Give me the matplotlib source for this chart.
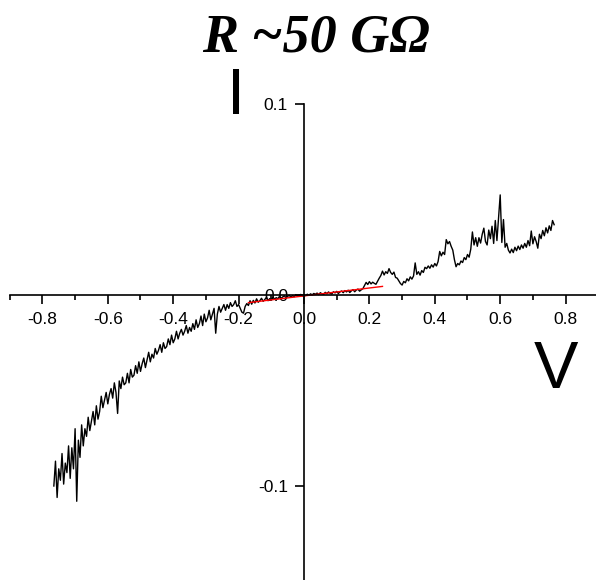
import numpy as np
import matplotlib
matplotlib.use("Agg")
import matplotlib.pyplot as plt
from matplotlib.ticker import MultipleLocator, FixedLocator

# Bias sweep (V): -0.765 V to +0.765 V in 5 mV steps
v_start, v_stop, v_step = -0.765, 0.765, 0.005
voltage = np.round(np.arange(v_start, v_stop + v_step / 2, v_step), 3)

# Measured current, one list per 0.1 V stretch of the sweep
cur_a = [-0.100, -0.087, -0.106, -0.091, -0.097, -0.083, -0.099, -0.088, -0.093, -0.079,
         -0.096, -0.080, -0.091, -0.070, -0.108, -0.076, -0.085, -0.068, -0.079, -0.070]
cur_b = [-0.074, -0.064, -0.071, -0.066, -0.061, -0.068, -0.058, -0.065, -0.061, -0.053,
         -0.059, -0.055, -0.051, -0.057, -0.052, -0.049, -0.054, -0.046, -0.051, -0.062]
cur_c = [-0.045, -0.049, -0.043, -0.047, -0.046, -0.041, -0.046, -0.039, -0.043, -0.042,
         -0.037, -0.041, -0.035, -0.040, -0.036, -0.033, -0.038, -0.034, -0.030, -0.035]
cur_d = [-0.031, -0.033, -0.028, -0.031, -0.029, -0.026, -0.030, -0.025, -0.028, -0.027,
         -0.023, -0.026, -0.021, -0.025, -0.023, -0.019, -0.023, -0.020, -0.018, -0.021]
cur_e = [-0.019, -0.016, -0.020, -0.017, -0.019, -0.015, -0.018, -0.013, -0.017, -0.015,
         -0.011, -0.016, -0.010, -0.014, -0.012, -0.008, -0.013, -0.010, -0.007, -0.020]
cur_f = [-0.010, -0.006, -0.009, -0.007, -0.005, -0.008, -0.005, -0.007, -0.004, -0.006,
         -0.005, -0.003, -0.006, -0.005, -0.007, -0.009, -0.0095, -0.006, -0.0045, -0.0055]
cur_g = [-0.0030, -0.0048, -0.0028, -0.0042, -0.0020, -0.0038, -0.0030, -0.0017, -0.0033, -0.0024,
         -0.0012, -0.0030, -0.0019, -0.0026, -0.0010, -0.0022, -0.0014, -0.0020, -0.0007, -0.0017]
cur_h = [-0.0010, -0.0004, -0.0015, -0.0007, -0.0002, -0.0012, -0.0003, -0.0009, 0.0002, -0.0006,
         -0.0001, 0.0003, -0.0006, 0.0001, -0.0003, 0.0004, -0.0001, 0.0006, 0.0001, 0.0008]
cur_i = [0.0004, 0.0010, 0.0002, 0.0012, 0.0006, 0.0003, 0.0014, 0.0007, 0.0016, 0.0009,
         0.0005, 0.0017, 0.0011, 0.0019, 0.0008, 0.0016, 0.0021, 0.0012, 0.0023, 0.0016]
cur_j = [0.0025, 0.0013, 0.0022, 0.0028, 0.0017, 0.0026, 0.0031, 0.0020, 0.0027, 0.0033,
         0.0050, 0.0066, 0.0055, 0.0070, 0.0058, 0.0067, 0.0061, 0.0056, 0.0072, 0.0088]
cur_k = [0.0102, 0.0125, 0.0105, 0.0122, 0.0113, 0.0138, 0.0118, 0.0108, 0.0120, 0.0092,
         0.0088, 0.0074, 0.0060, 0.0052, 0.0071, 0.0064, 0.0085, 0.0074, 0.0095, 0.0083]
cur_l = [0.0100, 0.0168, 0.0108, 0.0122, 0.0104, 0.0128, 0.0118, 0.0145, 0.0138, 0.0152,
         0.0140, 0.0158, 0.0146, 0.0165, 0.0152, 0.0175, 0.0228, 0.0205, 0.0224, 0.0212]
cur_m = [0.0290, 0.0268, 0.0280, 0.0255, 0.0235, 0.0185, 0.0148, 0.0165, 0.0158, 0.0178,
         0.0170, 0.0196, 0.0185, 0.0212, 0.0198, 0.0240, 0.0330, 0.0262, 0.0300, 0.0255]
cur_n = [0.0300, 0.0272, 0.0318, 0.0350, 0.0280, 0.0262, 0.0340, 0.0295, 0.0360, 0.0270,
         0.0390, 0.0285, 0.0405, 0.0524, 0.0275, 0.0395, 0.0250, 0.0270, 0.0235, 0.0220]
cur_o = [0.0240, 0.0222, 0.0250, 0.0232, 0.0256, 0.0238, 0.0262, 0.0245, 0.0270, 0.0250,
         0.0285, 0.0258, 0.0335, 0.0268, 0.0305, 0.0280, 0.0245, 0.0318, 0.0295, 0.0338,
         0.0310, 0.0352, 0.0325, 0.0362, 0.0338, 0.0390, 0.0368]

current = np.array(cur_a + cur_b + cur_c + cur_d + cur_e + cur_f + cur_g + cur_h
                   + cur_i + cur_j + cur_k + cur_l + cur_m + cur_n + cur_o)

# Linear fit around zero bias
fit_v = [-0.17, 0.24]
fit_i = [-0.004, 0.0045]

x_major = [-0.8, -0.6, -0.4, -0.2, 0.0, 0.2, 0.4, 0.6, 0.8]
y_major = [-0.1, 0.0, 0.1]

title_text = "R ~50 G\u03a9"

W, H = 596, 580
fig = plt.figure(figsize=(W / 100, H / 100), dpi=100)

# axes box in pixels: x from 9.7 to 598.3, y from 104 (top) to 581.5 (bottom)
ax_left, ax_right = 9.7, 598.3
ax_top, ax_bottom = 104.0, 581.5
ax = fig.add_axes([ax_left / W, 1 - ax_bottom / H,
                   (ax_right - ax_left) / W, (ax_bottom - ax_top) / H])
ax.set_xlim(-0.9, 0.9)
ax.set_ylim(-0.15, 0.1)

ax.plot(voltage, current, color="black", lw=1.0)
ax.plot(fit_v, fit_i, color="red", lw=1.0)

for side in ("top", "right"):
    ax.spines[side].set_visible(False)
ax.spines["left"].set_position(("data", 0))
ax.spines["bottom"].set_position(("data", 0))
for side in ("left", "bottom"):
    ax.spines[side].set_linewidth(1.2)

ax.xaxis.set_major_locator(FixedLocator(x_major))
ax.xaxis.set_minor_locator(MultipleLocator(0.1))
ax.yaxis.set_major_locator(FixedLocator(y_major))
ax.set_xticklabels([f"{v:.1f}" for v in x_major])
ax.set_yticklabels([f"{v:.1f}" for v in y_major])

ax.tick_params(axis="both", which="major", direction="out", length=6.5, width=1.2,
               labelsize=12.5)
ax.tick_params(axis="x", which="minor", direction="out", length=3.6, width=1.2)
ax.tick_params(axis="x", which="major", pad=6)
ax.tick_params(axis="y", which="major", pad=5)
for lab in ax.get_xticklabels() + ax.get_yticklabels():
    lab.set_fontfamily(["Liberation Sans", "DejaVu Sans"])

fig.text(316 / W, 1 - 52 / H, title_text, ha="center", va="baseline",
         family=["Liberation Serif", "DejaVu Serif"], style="italic",
         weight="bold", size=39)
fig.text(235.5 / W, 1 - 113.5 / H, "I", ha="center", va="baseline",
         family=["Liberation Sans", "DejaVu Sans"], size=47)
fig.text(556 / W, 1 - 388 / H, "V", ha="center", va="baseline",
         family=["Liberation Sans", "DejaVu Sans"], size=48)

fig.savefig("out.png", dpi=100)
